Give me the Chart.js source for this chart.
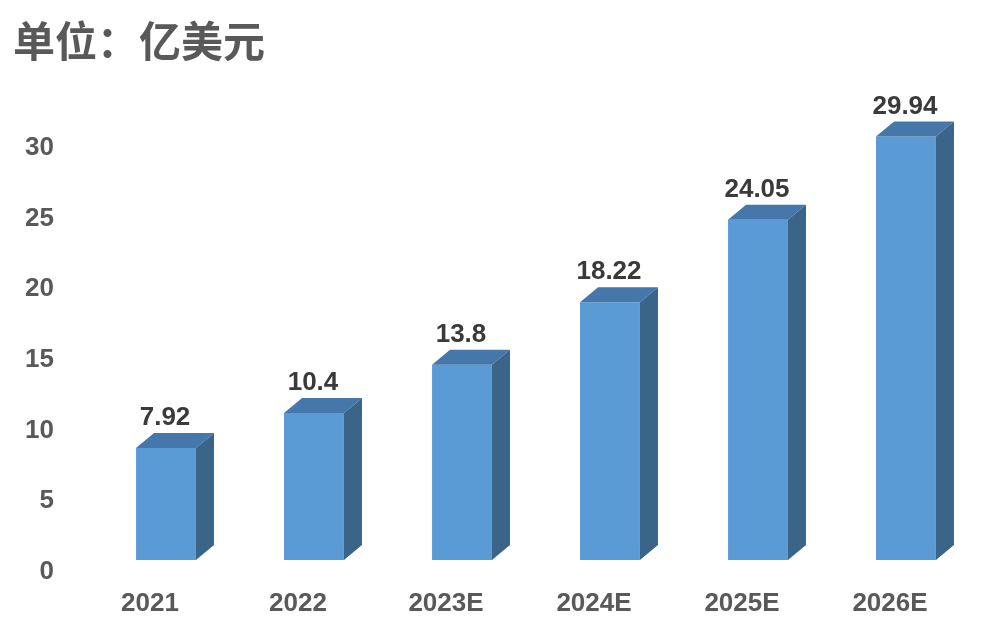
<!DOCTYPE html>
<html>
<head>
<meta charset="utf-8">
<script src="https://cdn.jsdelivr.net/npm/chart.js@4"></script>
<style>
  html, body { margin: 0; padding: 0; background: #ffffff; }
  #wrap { width: 994px; height: 632px; }
</style>
</head>
<body>
<div id="wrap"><canvas id="marketChart"></canvas></div>
<script>
const categories = ['2021', '2022', '2023E', '2024E', '2025E', '2026E'];
const marketSize = [7.92, 10.4, 13.8, 18.22, 24.05, 29.94];
const yTicks = [0, 5, 10, 15, 20, 25, 30];

const FRONT = '#5b9bd5';
const TOP = '#4677aa';
const SIDE = '#3a6589';
const DEPTH_X = 18;
const DEPTH_Y = 15;

// draws the top and right faces so the bars look like boxes, plus the value labels
const boxBars = {
    id: 'boxBars',
    afterDatasetsDraw(chart) {
        const ctx = chart.ctx;
        const meta = chart.getDatasetMeta(0);
        ctx.save();
        meta.data.forEach((bar, i) => {
            const left = bar.x - bar.width / 2;
            const right = bar.x + bar.width / 2;
            const top = bar.y;
            const bottom = bar.base;

            ctx.fillStyle = TOP;
            ctx.beginPath();
            ctx.moveTo(left, top);
            ctx.lineTo(left + DEPTH_X, top - DEPTH_Y);
            ctx.lineTo(right + DEPTH_X, top - DEPTH_Y);
            ctx.lineTo(right, top);
            ctx.closePath();
            ctx.fill();

            ctx.fillStyle = SIDE;
            ctx.beginPath();
            ctx.moveTo(right, top);
            ctx.lineTo(right + DEPTH_X, top - DEPTH_Y);
            ctx.lineTo(right + DEPTH_X, bottom - DEPTH_Y);
            ctx.lineTo(right, bottom);
            ctx.closePath();
            ctx.fill();

            ctx.fillStyle = '#3a3a3a';
            ctx.font = 'bold 26px "Liberation Sans", Arial, sans-serif';
            ctx.textAlign = 'center';
            ctx.textBaseline = 'middle';
            ctx.fillText(String(marketSize[i]), bar.x - 1, top - DEPTH_Y - 15);
        });
        ctx.restore();
    }
};

const ctx = document.getElementById('marketChart').getContext('2d');
new Chart(ctx, {
    type: 'bar',
    data: {
        labels: categories,
        datasets: [{
            data: marketSize,
            backgroundColor: FRONT,
            borderWidth: 0,
            categoryPercentage: 1,
            barPercentage: 0.405
        }]
    },
    options: {
        responsive: true,
        maintainAspectRatio: false,
        animation: false,
        layout: {
            padding: { left: 13, right: 14, top: 0, bottom: 0 }
        },
        plugins: {
            legend: { display: false },
            tooltip: { enabled: false },
            title: {
                display: true,
                text: '单位：亿美元',
                align: 'start',
                color: '#595959',
                font: { family: '"Noto Sans CJK SC", sans-serif', size: 42, weight: 'bold', lineHeight: 1 },
                padding: { top: 20, bottom: 3 }
            }
        },
        scales: {
            x: {
                grid: { display: false },
                border: { display: false },
                ticks: {
                    color: '#595959',
                    font: { family: '"Liberation Sans", Arial, sans-serif', size: 26, weight: 'bold' },
                    padding: 20,
                    labelOffset: -16
                },
                afterFit(axis) { axis.height = 72; }
            },
            y: {
                min: 0,
                max: 35,
                grid: { display: false },
                border: { display: false },
                afterBuildTicks(axis) {
                    axis.ticks = yTicks.map(v => ({ value: v }));
                },
                ticks: {
                    color: '#595959',
                    font: { family: '"Liberation Sans", Arial, sans-serif', size: 26, weight: 'bold' },
                    padding: 30,
                    labelOffset: 12
                },
                afterFit(axis) { axis.width = 79; }
            }
        }
    },
    plugins: [boxBars]
});
</script>
</body>
</html>
